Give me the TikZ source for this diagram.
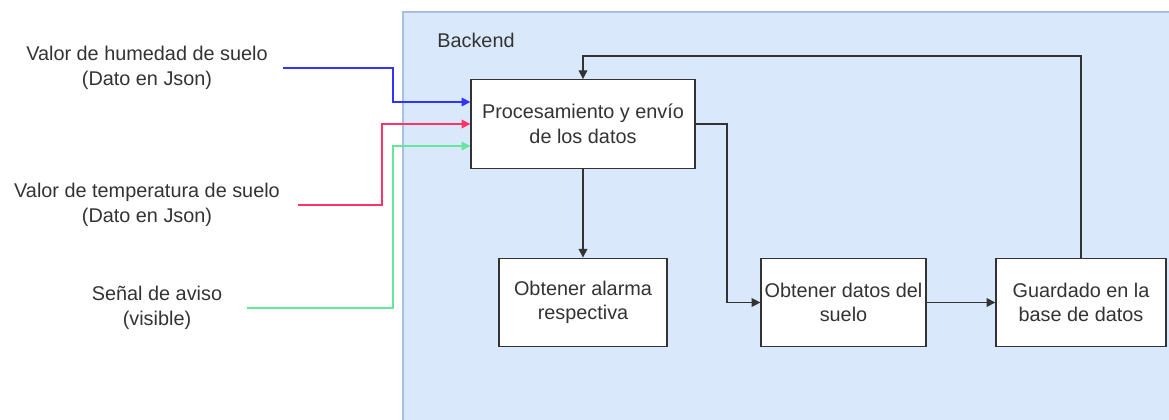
\documentclass[tikz,border=0pt]{standalone}
\usepackage{fontspec}
\setmainfont{Liberation Sans}
\usepackage{xcolor}
\usetikzlibrary{arrows.meta}
\usetikzlibrary{positioning}
\definecolor{backfill}{HTML}{DAE8FC}
\definecolor{backline}{HTML}{A6BFE3}
\definecolor{txtgray}{HTML}{333333}
\definecolor{humblue}{HTML}{3333FF}
\definecolor{tempred}{HTML}{FF3366}
\definecolor{avisogreen}{HTML}{66E69A}

\begin{document}
\begin{tikzpicture}[x=0.02cm, y=-0.02cm,
    font=\fontsize{11.3}{14}\selectfont, text=txtgray,
    >={Triangle[length=5pt,width=5pt]},
    bloque/.style={draw=txtgray, line width=0.8pt, fill=white, align=center,
      minimum height=1.77cm, inner sep=2pt},
    etiqueta/.style={align=center, inner sep=0pt},
    flecha/.style={->, draw=txtgray, line width=0.8pt}]
  \useasboundingbox (0,0) rectangle (1169,419);
  \clip (0,0) rectangle (1169,419);
  % backend
  \draw[fill=backfill, draw=backline, line width=1pt] (403,12) rectangle (1190,440);
  \node[anchor=west, inner sep=0pt] (backend) at (437,40) {Backend};
  % bloques
  \node[bloque, minimum width=4.48cm] (proc) at (583,124) {Procesamiento y envío\\de los datos};
  \node[bloque, minimum width=3.36cm] (alarma) at (583,302.5) {Obtener alarma\\respectiva};
  \node[bloque, minimum width=3.26cm] (datos) at (843.5,302.5) {Obtener datos del\\suelo};
  \node[bloque, minimum width=3.4cm] (guardado) at (1081,302.5) {Guardado en la\\base de datos};
  % entradas
  \node[etiqueta] (hum) at (147,68) {Valor de humedad de suelo\\(Dato en Json)};
  \node[etiqueta] (temp) at (147,205) {Valor de temperatura de suelo\\(Dato en Json)};
  \node[etiqueta] (aviso) at (157,308) {Señal de aviso\\(visible)};
  \draw[->, humblue, line width=0.8pt] ([xshift=0.3cm]hum.east) -- (393,68) |- ([yshift=0.44cm]proc.west);
  \draw[->, tempred, line width=0.8pt] ([xshift=0.36cm]temp.east) -- (382,205) |- (proc.west);
  \draw[->, avisogreen, line width=0.8pt] ([xshift=0.5cm]aviso.east) -- (393,308) |- ([yshift=-0.44cm]proc.west);
  % flujo
  \draw[flecha] (proc.south) -- (alarma.north);
  \draw[flecha] (proc.east) -- (727,124) |- (datos.west);
  \draw[flecha] (datos.east) -- (guardado.west);
  \draw[flecha] (guardado.north) -- (1081,56) -| (proc.north);
\end{tikzpicture}
\end{document}
